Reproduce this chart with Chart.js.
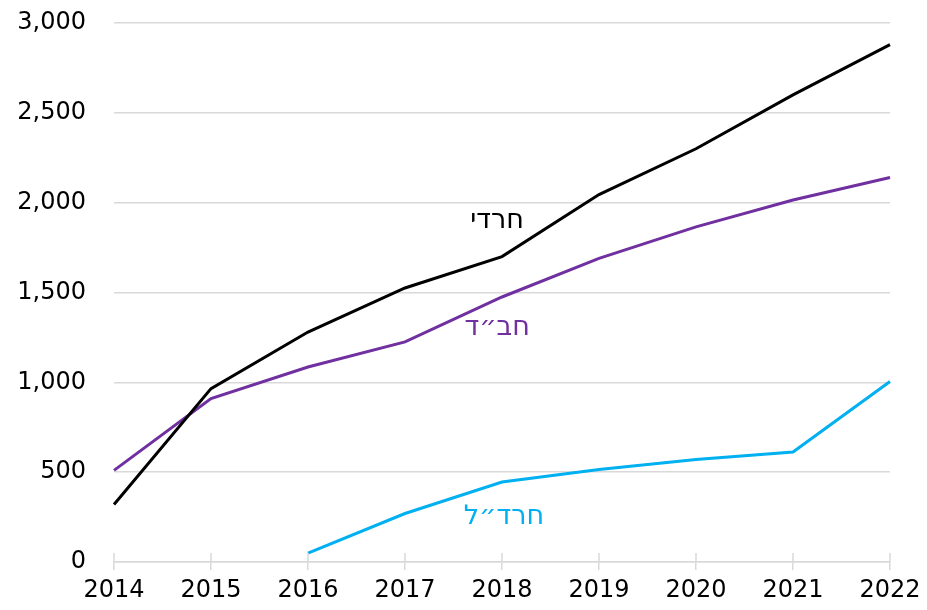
<!DOCTYPE html>
<html>
<head>
<meta charset="utf-8">
<style>
  html, body { margin: 0; padding: 0; background: #fff; }
  #wrap { width: 927px; height: 610px; }
</style>
<script src="https://cdn.jsdelivr.net/npm/chart.js@4"></script>
</head>
<body>
<div id="wrap"><canvas id="lineChart" width="927" height="610"></canvas></div>
<script>
const years = ['2014', '2015', '2016', '2017', '2018', '2019', '2020', '2021', '2022'];
const haredi = [320, 965, 1280, 1525, 1700, 2045, 2300, 2600, 2880];
const chabad = [510, 910, 1085, 1225, 1475, 1690, 1865, 2015, 2140];
const hardal = [null, null, 50, 270, 445, 515, 570, 612, 1005];
const yTicks = [0, 500, 1000, 1500, 2000, 2500, 3000];

// inline series names: [text, colour, x index, y value]
const seriesLabels = [
    ['חרדי', '#000000', 3.95, 1900],
    ['חב״ד', '#7030a0', 3.95, 1300],
    ['חרד״ל', '#00b0f0', 4.02, 250]
];

const gridColor = '#d9d9d9';

// names next to the lines + upper half of the x tick marks
const labelPlugin = {
    id: 'inlineLabels',
    afterDatasetsDraw(chart) {
        const ctx = chart.ctx;
        const x = chart.scales.x;
        const y = chart.scales.y;
        ctx.save();
        ctx.strokeStyle = gridColor;
        ctx.lineWidth = 1.5;
        const y0 = y.getPixelForValue(0);
        years.forEach((yr, i) => {
            const px = x.getPixelForValue(i);
            ctx.beginPath();
            ctx.moveTo(px, y0 - 9);
            ctx.lineTo(px, y0);
            ctx.stroke();
        });
        ctx.font = '27px "DejaVu Sans"';
        ctx.textAlign = 'center';
        ctx.textBaseline = 'middle';
        ctx.direction = 'rtl';
        seriesLabels.forEach(l => {
            ctx.fillStyle = l[1];
            ctx.fillText(l[0], x.getPixelForValue(l[2]), y.getPixelForValue(l[3]));
        });
        ctx.restore();
    }
};

const ctx = document.getElementById('lineChart').getContext('2d');
const chart = new Chart(ctx, {
    type: 'line',
    data: {
        labels: years,
        datasets: [
            { label: 'חרדי', data: haredi, borderColor: '#000000' },
            { label: 'חב״ד', data: chabad, borderColor: '#7030a0' },
            { label: 'חרד״ל', data: hardal, borderColor: '#00b0f0' }
        ]
    },
    options: {
        responsive: false,
        animation: false,
        layout: { padding: { top: 23, right: 37, left: 0, bottom: 0 } },
        elements: {
            line: { borderWidth: 3, tension: 0 },
            point: { radius: 0 }
        },
        plugins: {
            legend: { display: false },
            tooltip: { enabled: false }
        },
        scales: {
            x: {
                offset: false,
                afterFit: s => { s.height = 48; },
                grid: { drawOnChartArea: false, drawTicks: true, tickLength: 8, color: gridColor, lineWidth: 1.5 },
                border: { color: gridColor, width: 1.5 },
                ticks: { color: '#000', padding: 6, maxRotation: 0, font: { family: 'DejaVu Sans', size: 24 } }
            },
            y: {
                min: 0,
                max: 3000,
                afterFit: s => { s.width = 114; s.paddingTop = 0; s.paddingBottom = 0; },
                afterBuildTicks: s => { s.ticks = yTicks.map(v => ({ value: v })); },
                grid: { drawTicks: false, color: gridColor, lineWidth: 1.5 },
                border: { display: false },
                ticks: {
                    color: '#000',
                    padding: 28,
                    font: { family: 'DejaVu Sans', size: 24 },
                    callback: v => v.toLocaleString('en-US')
                }
            }
        }
    },
    plugins: [labelPlugin]
});
</script>
</body>
</html>
